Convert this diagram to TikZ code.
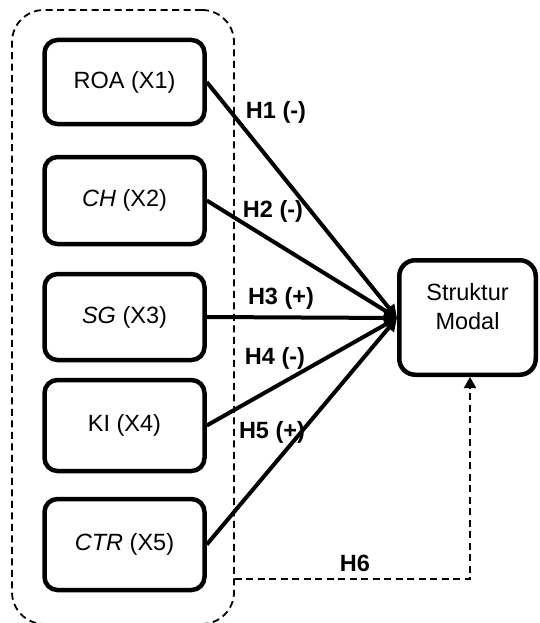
\documentclass[tikz,border=0pt]{standalone}
\usepackage{fontspec}
\setmainfont{Liberation Sans}
\usetikzlibrary{arrows.meta}
\begin{document}
\begin{tikzpicture}[x=1pt,y=-1pt,
  varbox/.style={draw, line width=4.5pt, rounded corners=13pt, minimum width=160pt, inner sep=0pt, font=\fontsize{23.5}{28}\selectfont},
  grpbox/.style={draw, dashed, dash pattern=on 7pt off 4.5pt, line width=1.8pt, rounded corners=32pt, minimum width=222pt, minimum height=614pt, inner sep=0pt},
  link/.style={line width=4pt, -{Triangle[length=13pt,width=13pt]}},
  hlab/.style={font=\fontsize{23.5}{28}\selectfont\bfseries, inner sep=0pt},
  dlink/.style={dashed, dash pattern=on 7pt off 4.5pt, line width=1.9pt, -{Triangle[length=11pt,width=12pt]}}
]
\clip (0,0) rectangle (540,623);
\fill[white] (0,0) rectangle (540,623);
\node[grpbox] (grp) at (123,317) {};
\node[varbox, minimum height=84pt] (b1) at (124.5,82) {ROA (X1)};
\node[varbox, minimum height=87pt] (b2) at (124.5,200.5) {\textit{CH} (X2)};
\node[varbox, minimum height=86pt] (b3) at (124.5,317) {\textit{SG} (X3)};
\node[varbox, minimum height=91pt] (b4) at (124.5,425.5) {KI (X4)};
\node[varbox, minimum height=91pt] (b5) at (124.5,544.5) {\textit{CTR} (X5)};
\node[varbox, minimum width=136.5pt, minimum height=114.5pt, rounded corners=16pt] (sm) at (467.5,317.5) {};
\node[font=\fontsize{23.5}{29}\selectfont, align=center, inner sep=0pt] (smt) at (467.5,307) {Struktur\\Modal};
\coordinate (cv) at (397,318);
\foreach \b in {b1,b2,b3,b4,b5}{
  \draw[link] (\b.east) -- (cv);
}
\node[hlab] (h1) at (276,112) {H1 (-)};
\node[hlab] (h2) at (273,211) {H2 (-)};
\node[hlab] (h3) at (281,298) {H3 (+)};
\node[hlab] (h4) at (275,358) {H4 (-)};
\node[hlab] (h5) at (272,432) {H5 (+)};
\node[hlab] (h6) at (355,563) {H6};
\coordinate (h6s) at (grp.east |- 0,579);
\draw[dlink] (h6s) -| ([xshift=2.5pt]sm.south);
\end{tikzpicture}
\end{document}
